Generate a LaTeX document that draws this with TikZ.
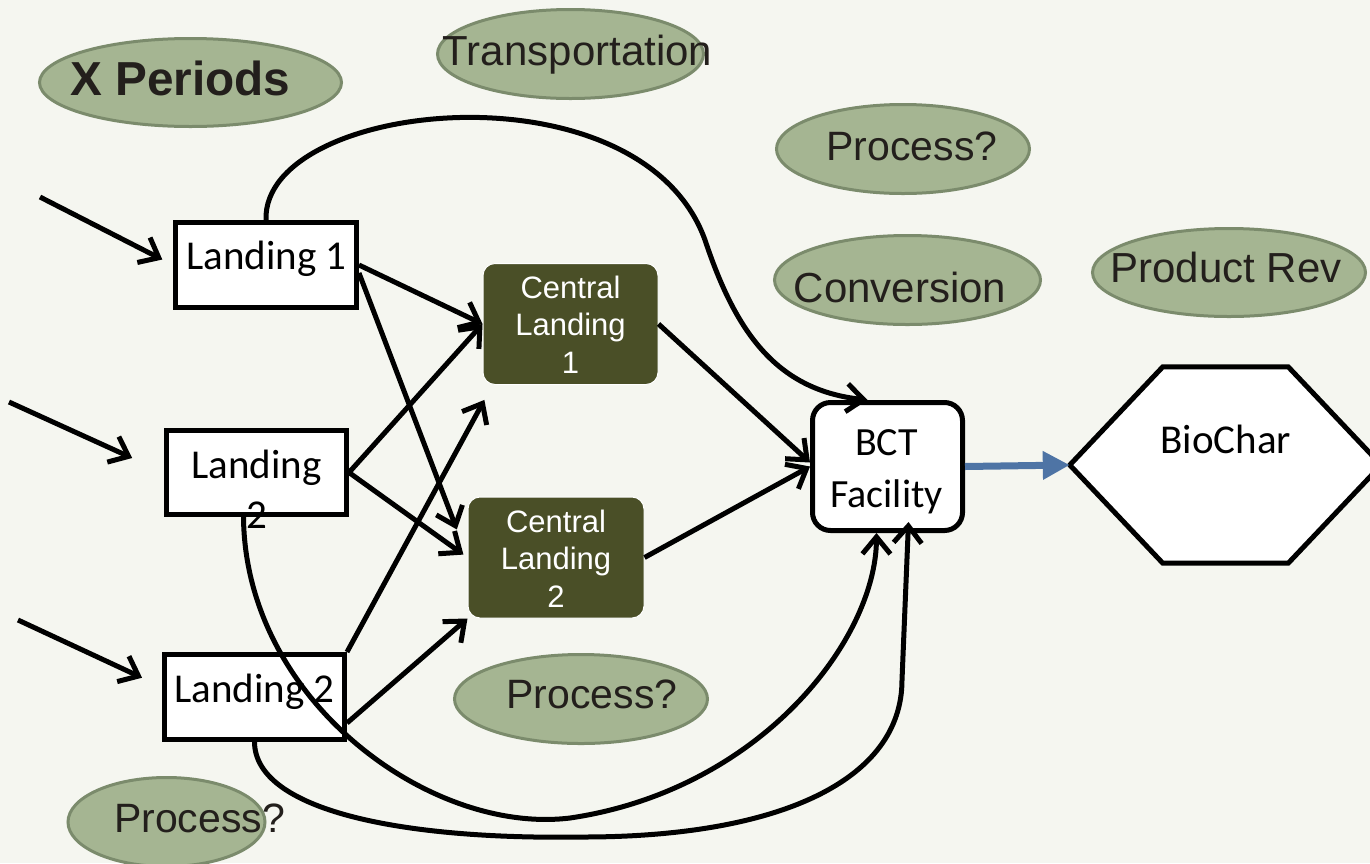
\documentclass[tikz,border=0pt]{standalone}
\usepackage{fontspec}
\setmainfont{Liberation Sans}
\newfontfamily\calibri{Carlito}
\usetikzlibrary{arrows.meta,shapes.geometric}

\definecolor{bgpaper}{HTML}{F5F6F0}
\definecolor{sage}{HTML}{A5B592}
\definecolor{sageline}{HTML}{7B8B6C}
\definecolor{olive}{HTML}{4A4F27}
\definecolor{inktext}{HTML}{231F1C}
\definecolor{flowblue}{HTML}{4E74A5}

% captions are anchored on the baseline of their last line
\tikzset{
  tag/.style={ellipse, fill=sage, draw=sageline, line width=3pt, inner sep=0pt},
  tagtext/.style={anchor=base, inner sep=0pt, text=inktext, font=\fontsize{41}{50}\selectfont},
  landbox/.style={rectangle, draw=black, fill=white, line width=5pt, inner sep=0pt,
    minimum width=181pt, minimum height=85pt},
  boxtext/.style={anchor=base, inner sep=0pt, align=center, text=black,
    font=\calibri\fontsize{41}{50}\selectfont},
  hubbox/.style={rectangle, rounded corners=12pt, fill=olive, draw=white, line width=1pt,
    inner sep=0pt, minimum width=175pt, minimum height=121pt},
  hubtext/.style={anchor=base, inner sep=0pt, align=center, text=white,
    font=\fontsize{31}{37.5}\selectfont},
  flow/.style={line width=5pt, -{Straight Barb[length=17pt,width=28pt]}},
  hexline/.style={line width=5pt, draw=black, fill=white, line join=miter},
}

\begin{document}
\begin{tikzpicture}[x=1pt, y=-1pt]
  % page and background
  \useasboundingbox (0,0) rectangle (1370,863);
  \fill[bgpaper] (0,0) rectangle (1370,863);

  % green category tags, each with its caption set on a baseline
  \node[tag, minimum width=302pt, minimum height=88pt] (xper) at (190.5,82.5) {};
  \node[tagtext, font=\bfseries\fontsize{47.7}{55}\selectfont, xshift=-10pt, yshift=-13pt]
    (xpertext) at (xper.center) {X Periods};
  \node[tag, minimum width=266pt, minimum height=89pt] (trans) at (570.5,54) {};
  \node[tagtext, font=\fontsize{42}{50}\selectfont, xshift=7pt, yshift=-11pt]
    (transtext) at (trans.center) {Transportation};
  \node[tag, minimum width=253pt, minimum height=89pt] (proca) at (903,149) {};
  \node[tagtext, xshift=9pt, yshift=-11pt] (procatext) at (proca.center) {Process?};
  \node[tag, minimum width=266pt, minimum height=89pt] (conv) at (907.5,280) {};
  \node[tagtext, font=\fontsize{42}{50}\selectfont, xshift=-7.5pt, yshift=-22pt]
    (convtext) at (conv.center) {Conversion};
  \node[tag, minimum width=273pt, minimum height=88pt] (prodrev) at (1229,272.5) {};
  \node[tagtext, font=\fontsize{42}{50}\selectfont, xshift=-3pt, yshift=-9.5pt]
    (prodrevtext) at (prodrev.center) {Product Rev};
  \node[tag, minimum width=253pt, minimum height=89pt] (procb) at (581,699) {};
  \node[tagtext, xshift=11pt, yshift=-9pt] (procbtext) at (procb.center) {Process?};
  \node[tag, minimum width=197pt, minimum height=89pt] (procc) at (166.5,822) {};
  \node[tagtext, xshift=33pt, yshift=-10pt] (procctext) at (procc.center) {Process?};

  % landings
  \node[landbox] (l1) at (266,265) {};
  \node[boxtext, xshift=0.5pt, yshift=-4pt] (l1text) at (l1.center) {Landing 1};
  \node[landbox, minimum width=180pt, minimum height=84pt] (l2) at (256.5,472.5) {};
  \node[boxtext, yshift=-55.5pt] (l2text) at (l2.center) {Landing\\2};
  \node[landbox, minimum width=180pt] (l3) at (254.5,697) {};
  \node[boxtext, yshift=-5pt] (l3text) at (l3.center) {Landing 2};

  % central landings
  \node[hubbox] (cl1) at (570.5,324) {};
  \node[hubtext, yshift=-49pt] (cl1text) at (cl1.center) {Central\\Landing\\1};
  \node[hubbox, minimum width=176pt] (cl2) at (556,557.5) {};
  \node[hubtext, yshift=-49.5pt] (cl2text) at (cl2.center) {Central\\Landing\\2};

  % facility
  \node[rectangle, rounded corners=18pt, draw=black, fill=white, line width=5pt, inner sep=0pt,
    minimum width=150pt, minimum height=128pt] (bct) at (887.5,466.5) {};
  \node[boxtext, font=\calibri\fontsize{40}{52}\selectfont, xshift=-1pt, yshift=-40.5pt]
    (bcttext) at (bct.center) {BCT\\Facility};

  % product hexagon
  \node[inner sep=0pt, minimum width=311pt, minimum height=196pt] (biochar) at (1225.5,465) {};
  \draw[hexline] (biochar.west) -- ([xshift=93pt]biochar.north west)
    -- ([xshift=-93pt]biochar.north east) -- (biochar.east)
    -- ([xshift=-93pt]biochar.south east) -- ([xshift=93pt]biochar.south west) -- cycle;
  \node[boxtext, xshift=0.5pt, yshift=12pt] (biochartext) at (biochar.center) {BioChar};

  % incoming supply
  \coordinate (srca) at (40,197);
  \coordinate (srcb) at (9,402);
  \coordinate (srcc) at (18,620);
  \draw[flow, shorten >=12pt] (srca) -- (l1.west);
  \draw[flow, shorten >=35pt] (srcb) -- (l2.west);
  \draw[flow, shorten >=22pt] (srcc) -- ([yshift=10pt]l3.west);

  % landings to central landings
  \draw[flow] (l1.east) -- (cl1.west);
  \draw[flow, shorten >=30pt] ([yshift=-8pt]l1.east) -- (cl2.west);
  \draw[flow] (l2.east) -- (cl1.west);
  \draw[flow, shorten >=5pt] (l2.east) -- (cl2.west);
  \draw[flow, shorten >=17pt] (l3.north east) -- ([xshift=10pt]cl1.south west);
  \draw[flow] ([yshift=-26pt]l3.east) -- (cl2.south west);

  % central landings to facility
  \draw[flow] (cl1.east) -- ([yshift=4pt]bct.west);
  \draw[flow] (cl2.east) -- (bct.west);

  % direct hauls to facility
  \draw[flow] (l1.north) .. controls (262,100) and (640,60) .. (705,240)
    .. controls (735,330) and (775,390) .. ([xshift=-20pt]bct.north);
  \draw[flow] ([xshift=-13pt]l2.south) .. controls (245,700) and (430,835) .. (570,818)
    .. controls (760,790) and (876,640) .. ([xshift=-11pt]bct.south);
  \draw[flow] (l3.south) .. controls (255,810) and (400,840) .. (583,837)
    .. controls (780,837) and (902,780) .. (902,680) -- ([xshift=21pt,yshift=11pt]bct.south);

  % product output
  \draw[line width=7pt, flowblue, -{Triangle[length=27pt,width=27pt]}] (bct.east) -- (biochar.west);
\end{tikzpicture}
\end{document}
